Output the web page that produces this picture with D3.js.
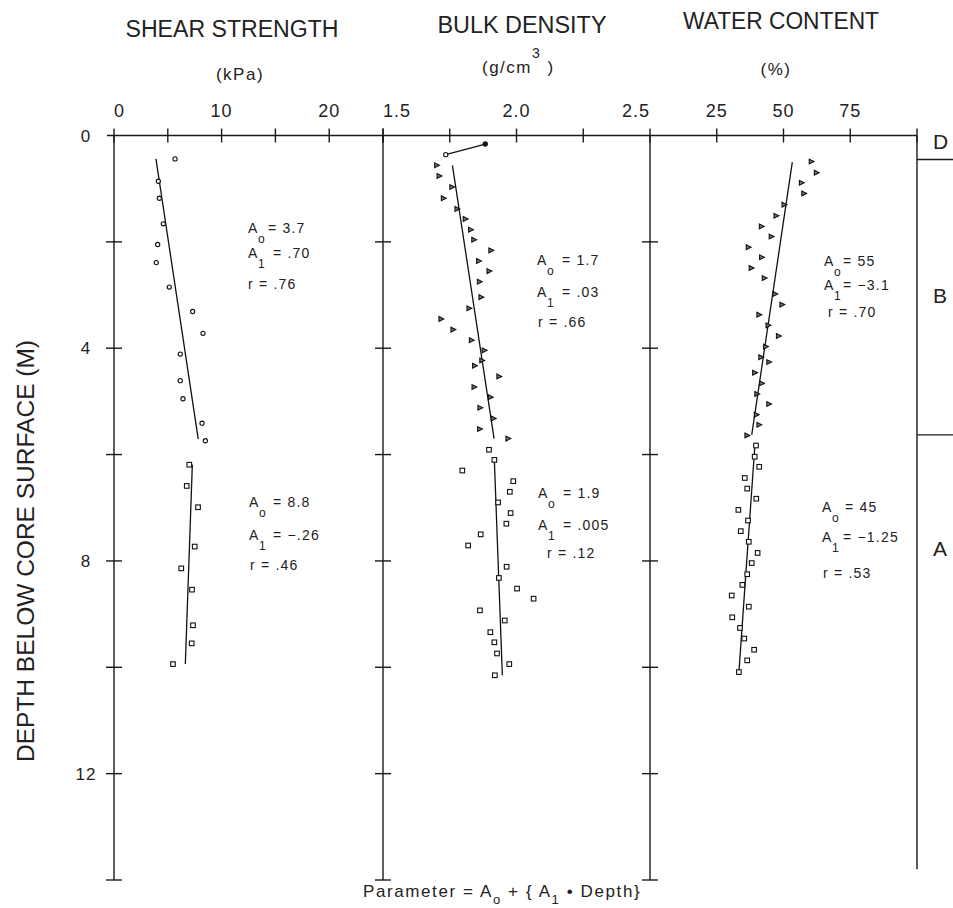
<!DOCTYPE html>
<html>
<head>
<meta charset="utf-8">
<title>Core properties vs depth</title>
<script src="https://d3js.org/d3.v7.min.js"></script>
<style>
body { margin: 0; background: #fff; }
svg { font-family: "Liberation Sans", Arial, sans-serif; fill: #222; }
.ax { stroke: #1a1a1a; stroke-width: 1.4; fill: none; }
.fit { stroke: #111; stroke-width: 1.3; fill: none; }
.pt { stroke: #111; stroke-width: 1.1; }
</style>
</head>
<body>
<script>
// ---- data: [depth (m), value] ----
var shearUpper = [[0.44,5.67],[0.86,4.12],[1.18,4.21],[1.66,4.58],[2.05,4.06],[2.39,3.93],[2.85,5.14],
  [3.31,7.31],[3.72,8.27],[4.11,6.16],[4.61,6.16],[4.95,6.41],[5.41,8.18],[5.74,8.49]];
var shearLower = [[6.19,7.00],[6.59,6.76],[6.99,7.81],[7.73,7.50],[8.14,6.25],[8.54,7.25],[9.21,7.34],
  [9.55,7.22],[9.94,5.48]];
var densTop = [[0.36,1.735],[0.16,1.883]];
var densUpper = [[0.56,1.701],[0.76,1.710],[0.97,1.758],[1.18,1.726],[1.38,1.777],[1.57,1.808],[1.77,1.828],
  [1.96,1.840],[2.16,1.904],[2.36,1.858],[2.55,1.897],[2.75,1.861],[3.04,1.867],[3.25,1.822],[3.45,1.717],
  [3.65,1.762],[3.85,1.831],[4.04,1.879],[4.23,1.870],[4.33,1.843],[4.53,1.934],[4.73,1.841],[4.92,1.902],
  [5.12,1.863],[5.32,1.913],[5.52,1.862],[5.70,1.968]];
var densLower = [[5.91,1.897],[6.10,1.917],[6.30,1.797],[6.50,1.988],[6.70,1.975],[6.90,1.931],[7.10,1.978],
  [7.30,1.962],[7.50,1.866],[7.71,1.819],[8.11,1.963],[8.32,1.934],[8.52,2.002],[8.71,2.064],[8.93,1.863],
  [9.12,1.956],[9.34,1.902],[9.53,1.917],[9.74,1.927],[9.94,1.973],[10.15,1.919]];
var waterUpper = [[0.49,60.4],[0.70,62.3],[0.89,56.7],[1.09,57.6],[1.30,50.2],[1.51,47.2],[1.71,41.7],
  [1.90,45.4],[2.10,36.8],[2.29,41.8],[2.49,37.9],[2.68,42.8],[2.98,46.8],[3.18,49.4],[3.37,40.8],
  [3.57,44.2],[3.77,48.1],[3.97,43.3],[4.17,41.5],[4.26,44.5],[4.46,39.2],[4.66,41.8],[4.86,40.0],
  [5.05,44.5],[5.25,39.8],[5.44,40.8],[5.64,36.3]];
var waterLower = [[5.83,39.7],[6.04,39.2],[6.23,40.9],[6.44,35.5],[6.64,36.4],[6.83,39.8],[7.04,33.1],
  [7.24,36.7],[7.44,34.0],[7.64,37.0],[7.85,40.3],[8.04,38.1],[8.25,36.4],[8.45,34.6],[8.65,30.6],
  [8.86,37.0],[9.06,30.8],[9.26,33.7],[9.46,35.3],[9.67,39.0],[9.87,36.4],[10.09,33.3]];

// regression lines (end points as drawn)
var shearFitUpper = [[0.44,3.90],[5.71,7.83]];
var shearFitLower = [[6.19,7.28],[9.94,6.63]];
var densFitUpper = [[0.56,1.760],[5.70,1.916]];
var densFitLower = [[6.10,1.917],[10.15,1.947]];
var waterFitUpper = [[0.50,53.3],[5.63,38.1]];
var waterFitLower = [[5.82,39.3],[10.09,33.3]];

// fit coefficients as printed
var fitA0 = ["3.7", "8.8", "1.7", "1.9", "55", "45"];
var fitA1 = [".70", "\u2212.26", ".03", ".005", "\u22123.1", "\u22121.25"];
var fitR  = [".76", ".46", ".66", ".12", ".70", ".53"];

// ticks
var shearTicks = [0, 5, 10, 15, 20, 25], shearLabels = [0, 10, 20];
var densTicks = [1.5, 1.75, 2.0, 2.25, 2.5], densLabels = [1.5, 2.0, 2.5];
var waterTicks = [25, 50, 75, 100], waterLabels = [25, 50, 75];
var depthTicks = [2, 4, 6, 8, 10, 12, 14], depthLabels = [0, 4, 8, 12];

// lithologic units
var unitNames = ["D", "B", "A"];
var unitBounds = [0.45, 5.63];
var unitLabelDepth = [0.1, 3.0, 7.75];

// ---- layout ----
var W = 953, H = 908;
var svg = d3.select("body").append("svg").attr("width", W).attr("height", H);

var y = d3.scaleLinear().domain([0, 14]).range([135.5, 880]);
var xShear = d3.scaleLinear().domain([0, 25]).range([114, 383]);
var xDens = d3.scaleLinear().domain([1.5, 2.5]).range([383, 650]);
var xWater = d3.scaleLinear().domain([0, 100]).range([650, 917]);
var yTop = y(0);

// top axis line
svg.append("line").attr("class", "ax").attr("x1", 107).attr("x2", 917).attr("y1", yTop).attr("y2", yTop);

// vertical axes with depth ticks
[114, 383, 650].forEach(function(x0) {
  svg.append("line").attr("class", "ax").attr("x1", x0).attr("x2", x0).attr("y1", yTop).attr("y2", y(14));
  svg.selectAll(null).data(depthTicks).enter().append("line").attr("class", "ax")
    .attr("x1", x0 - 8).attr("x2", x0 + 8)
    .attr("y1", function(d) { return y(d); }).attr("y2", function(d) { return y(d); });
});
svg.selectAll(null).data(depthLabels).enter().append("text")
  .attr("x", 86).attr("y", function(d) { return y(d) + 6; })
  .attr("text-anchor", "middle").style("font-size", "17px").style("letter-spacing", "1px")
  .text(function(d) { return d; });

// top ticks + labels for each panel
function topAxis(sc, ticks, labels, fmt) {
  svg.selectAll(null).data(ticks).enter().append("line").attr("class", "ax")
    .attr("x1", function(d) { return sc(d); }).attr("x2", function(d) { return sc(d); })
    .attr("y1", yTop - 7).attr("y2", yTop + 7);
  var dom = sc.domain();
  svg.selectAll(null).data(labels).enter().append("text")
    .attr("x", function(d) { return sc(d); }).attr("y", 117)
    .attr("text-anchor", function(d) { return d == dom[0] ? "start" : (d == dom[1] ? "end" : "middle"); })
    .style("font-size", "18px").style("letter-spacing", "1px").text(fmt);
}
topAxis(xShear, shearTicks, shearLabels, function(d) { return d; });
topAxis(xDens, densTicks, densLabels, d3.format(".1f"));
topAxis(xWater, waterTicks, waterLabels, function(d) { return d; });

// titles
function title(txt, cx, by, len) {
  svg.append("text").attr("x", cx).attr("y", by).attr("text-anchor", "middle")
    .attr("textLength", len).attr("lengthAdjust", "spacingAndGlyphs")
    .style("font-size", "23px").text(txt);
}
title("SHEAR STRENGTH", 232, 37, 213);
title("BULK DENSITY", 522, 33, 169);
title("WATER CONTENT", 781, 29, 196);
svg.append("text").attr("x", 240).attr("y", 80).attr("text-anchor", "middle")
  .style("font-size", "17px").style("letter-spacing", "1.5px").text("(kPa)");
var gcm = svg.append("text").attr("x", 482).attr("y", 73).style("font-size", "17px").style("letter-spacing", "1.5px");
gcm.append("tspan").text("(g/cm");
gcm.append("tspan").attr("dy", -15).style("font-size", "14px").text("3");
gcm.append("tspan").attr("dy", 15).text(" )");
svg.append("text").attr("x", 776).attr("y", 75).attr("text-anchor", "middle")
  .style("font-size", "17px").style("letter-spacing", "1.5px").text("(%)");

svg.append("text").attr("transform", "translate(34,551) rotate(-90)").attr("text-anchor", "middle")
  .attr("textLength", 422).attr("lengthAdjust", "spacingAndGlyphs")
  .style("font-size", "23px").text("DEPTH BELOW  CORE SURFACE (M)");

// units column
svg.append("line").attr("class", "ax").attr("x1", 917).attr("x2", 917).attr("y1", yTop).attr("y2", y(13.8));
svg.selectAll(null).data(unitBounds).enter().append("line").attr("class", "ax")
  .attr("x1", 917).attr("x2", W).attr("y1", function(d) { return y(d); }).attr("y2", function(d) { return y(d); });
svg.selectAll(null).data(unitNames).enter().append("text")
  .attr("x", 933).attr("y", function(d, i) { return y(unitLabelDepth[i]) + 8; })
  .style("font-size", "21px").text(function(d) { return d; });

// fits
function fitLine(sc, pts) {
  svg.append("path").attr("class", "fit")
    .attr("d", d3.line().x(function(d) { return sc(d[1]); }).y(function(d) { return y(d[0]); })(pts));
}
fitLine(xShear, shearFitUpper); fitLine(xShear, shearFitLower);
fitLine(xDens, densFitUpper); fitLine(xDens, densFitLower);
fitLine(xWater, waterFitUpper); fitLine(xWater, waterFitLower);
fitLine(xDens, densTop);

// markers
function circles(sc, pts, fill) {
  svg.selectAll(null).data(pts).enter().append("circle").attr("class", "pt")
    .attr("cx", function(d) { return sc(d[1]); }).attr("cy", function(d) { return y(d[0]); })
    .attr("r", 2.1).attr("fill", fill || "#fff");
}
function squares(sc, pts) {
  svg.selectAll(null).data(pts).enter().append("rect").attr("class", "pt")
    .attr("x", function(d) { return sc(d[1]) - 2.3; }).attr("y", function(d) { return y(d[0]) - 2.3; })
    .attr("width", 4.6).attr("height", 4.6).attr("fill", "#fff");
}
function triangles(sc, pts) {
  svg.selectAll(null).data(pts).enter().append("path").attr("class", "pt")
    .attr("d", "M-2,-2.4L2.8,0L-2,2.4Z").attr("fill", "#777")
    .attr("transform", function(d) { return "translate(" + sc(d[1]) + "," + y(d[0]) + ")"; });
}
circles(xShear, shearUpper);
squares(xShear, shearLower);
circles(xDens, densTop.slice(0, 1));
circles(xDens, densTop.slice(1), "#111");
triangles(xDens, densUpper);
squares(xDens, densLower);
triangles(xWater, waterUpper);
squares(xWater, waterLower);

// coefficient blocks: A x, "=" x, r x, baselines
var blocks = [
  {ax: 248, ex: 268, ex2: 273, rx: 248, b: [233, 258, 289]},
  {ax: 249, ex: 273, ex2: 273, rx: 250, b: [507, 540, 570]},
  {ax: 537, ex: 562, ex2: 562, rx: 538, b: [265, 297, 327]},
  {ax: 538, ex: 563, ex2: 563, rx: 547, b: [498, 530, 558]},
  {ax: 824, ex: 843, ex2: 843, rx: 828, b: [266, 290, 317]},
  {ax: 822, ex: 845, ex2: 843, rx: 823, b: [512, 542, 578]}
];
blocks.forEach(function(k, i) {
  var g = svg.append("g").style("font-size", "14px").style("letter-spacing", "1.2px");
  g.append("text").attr("x", k.ax).attr("y", k.b[0]).text("A");
  g.append("text").attr("x", k.ax + 10).attr("y", k.b[0] + 10).style("font-size", "12px").text("o");
  g.append("text").attr("x", k.ex).attr("y", k.b[0]).text("=  " + fitA0[i]);
  g.append("text").attr("x", k.ax).attr("y", k.b[1]).text("A");
  g.append("text").attr("x", k.ax + 10).attr("y", k.b[1] + 10).style("font-size", "12px").text("1");
  g.append("text").attr("x", k.ex2).attr("y", k.b[1]).text("=  " + fitA1[i]);
  g.append("text").attr("x", k.rx).attr("y", k.b[2]).text("r  =  " + fitR[i]);
});

// formula
var f = svg.append("text").attr("x", 363).attr("y", 897).style("font-size", "17px").style("letter-spacing", "1.6px");
f.append("tspan").text("Parameter = A");
f.append("tspan").attr("dy", 7).style("font-size", "13px").text("o");
f.append("tspan").attr("dy", -7).text(" + { A");
f.append("tspan").attr("dy", 7).style("font-size", "13px").text("1");
f.append("tspan").attr("dy", -7).text(" \u2022  Depth}");
</script>
</body>
</html>
